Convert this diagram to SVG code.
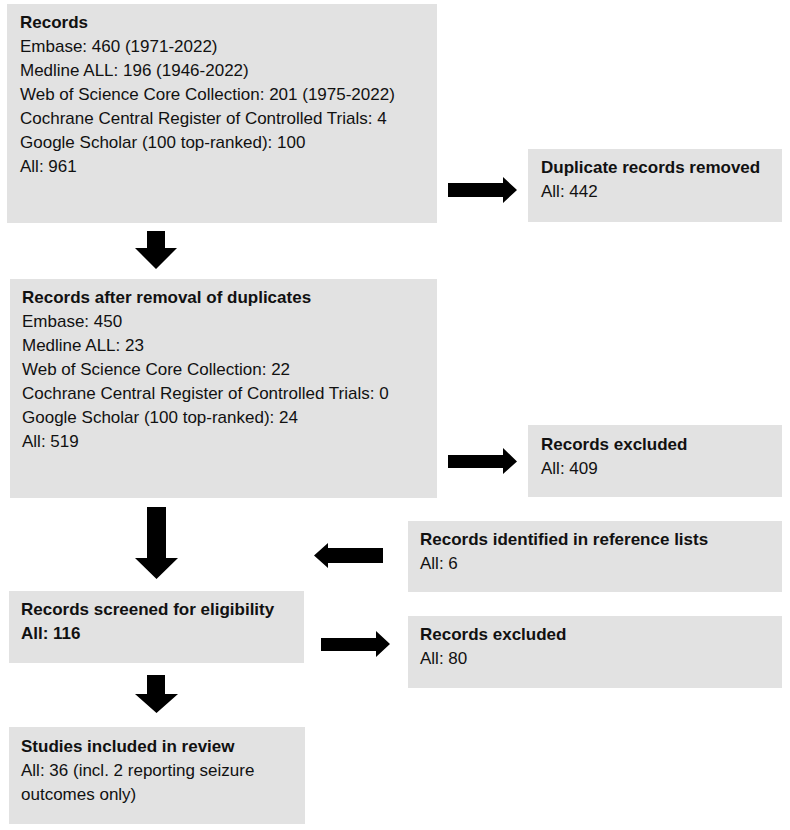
<svg xmlns="http://www.w3.org/2000/svg" width="790" height="830" viewBox="0 0 790 830">
<style>
.box{fill:#e2e2e2}
text{font-family:"Liberation Sans",Arial,sans-serif;font-size:17px;fill:#111}
.b{font-weight:bold}
.arr{fill:#000}
</style>
<rect width="790" height="830" fill="#fff"/>
<g id="records">
<rect class="box" x="7" y="4" width="430" height="219"/>
<text x="20" y="28" class="b">Records</text>
<text x="20" y="52">Embase: 460 (1971-2022)</text>
<text x="20" y="76">Medline ALL: 196 (1946-2022)</text>
<text x="20" y="100">Web of Science Core Collection: 201 (1975-2022)</text>
<text x="20" y="124">Cochrane Central Register of Controlled Trials: 4</text>
<text x="20" y="148">Google Scholar (100 top-ranked): 100</text>
<text x="20" y="172">All: 961</text>
</g>
<g id="duplicates-removed">
<rect class="box" x="528" y="149" width="254" height="73"/>
<text x="541" y="173" class="b">Duplicate records removed</text>
<text x="541" y="197">All: 442</text>
</g>
<g id="after-dedup">
<rect class="box" x="10" y="279" width="427" height="219"/>
<text x="22" y="303" class="b">Records after removal of duplicates</text>
<text x="22" y="327">Embase: 450</text>
<text x="22" y="351">Medline ALL: 23</text>
<text x="22" y="375">Web of Science Core Collection: 22</text>
<text x="22" y="399">Cochrane Central Register of Controlled Trials: 0</text>
<text x="22" y="423">Google Scholar (100 top-ranked): 24</text>
<text x="22" y="447">All: 519</text>
</g>
<g id="excluded-1">
<rect class="box" x="528" y="425" width="254" height="72"/>
<text x="541" y="450" class="b">Records excluded</text>
<text x="541" y="474">All: 409</text>
</g>
<g id="reference-lists">
<rect class="box" x="408" y="521" width="374" height="71"/>
<text x="420" y="545" class="b">Records identified in reference lists</text>
<text x="420" y="569">All: 6</text>
</g>
<g id="screened">
<rect class="box" x="9" y="591" width="295" height="72"/>
<text x="21" y="615" class="b">Records screened for eligibility</text>
<text x="21" y="639" class="b">All: 116</text>
</g>
<g id="excluded-2">
<rect class="box" x="408" y="616" width="374" height="72"/>
<text x="420" y="640" class="b">Records excluded</text>
<text x="420" y="664">All: 80</text>
</g>
<g id="included">
<rect class="box" x="9" y="727" width="296" height="97"/>
<text x="21" y="752" class="b">Studies included in review</text>
<text x="21" y="776">All: 36 (incl. 2 reporting seizure</text>
<text x="21" y="800">outcomes only)</text>
</g>
<g id="connectors">
<polygon class="arr" points="147,231 165,231 165,248 177,248 156,269 135,248 147,248"/>
<polygon class="arr" points="448,183 503,183 503,177 517,190 503,203 503,197 448,197"/>
<polygon class="arr" points="448,455 503,455 503,448 517,461.5 503,474 503,468 448,468"/>
<polygon class="arr" points="147,507 166,507 166,558 178,558 156.5,579 135,558 147,558"/>
<polygon class="arr" points="383,548 328,548 328,543 314,555.5 328,568 328,563 383,563"/>
<polygon class="arr" points="321,638 376,638 376,631 390,644 376,657 376,651 321,651"/>
<polygon class="arr" points="147,675 165,675 165,694 178,694 156.5,713 135,694 147,694"/>
</g>
</svg>
